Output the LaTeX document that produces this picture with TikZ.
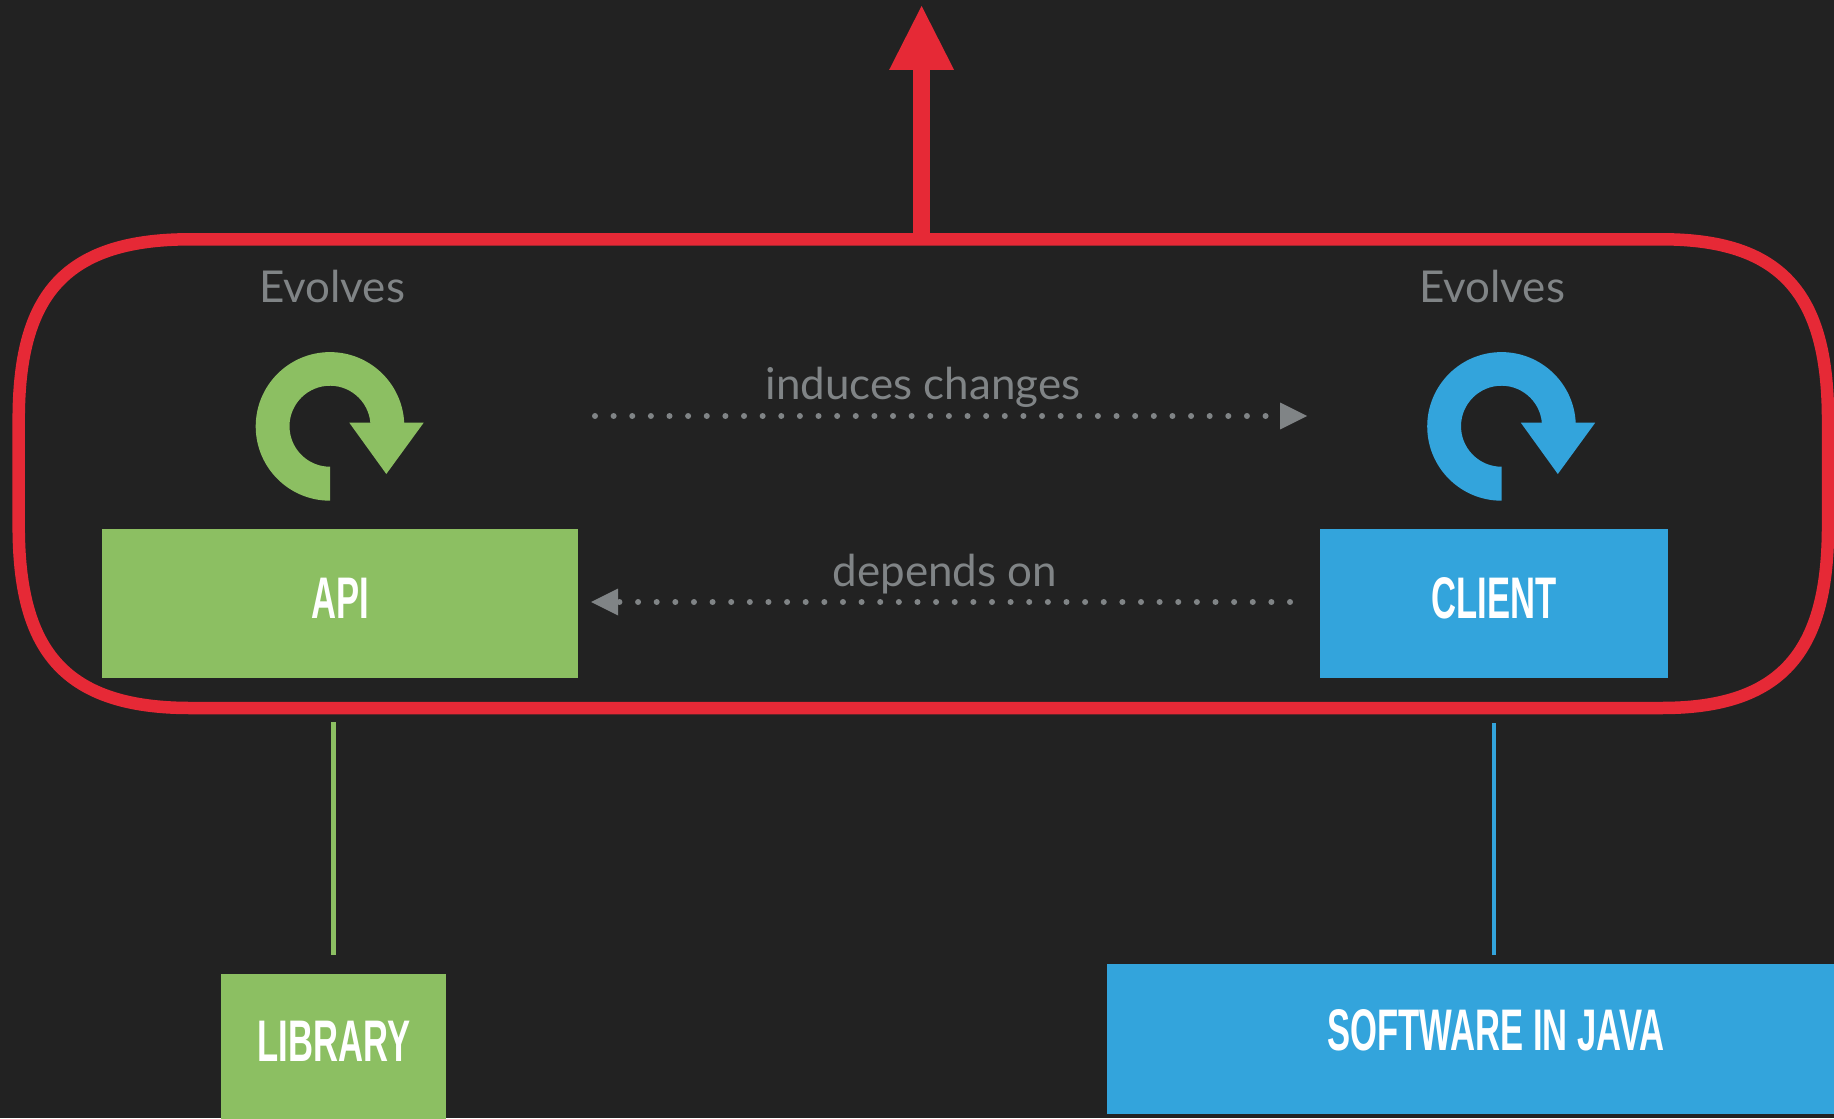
\documentclass[tikz,border=0pt]{standalone}
\usepackage{fontspec}
\usetikzlibrary{arrows.meta}
\setmainfont{Lato}
\newfontfamily\din[FakeStretch=0.59]{Liberation Sans}
\definecolor{bgc}{HTML}{222222}
\definecolor{grn}{HTML}{8CBF62}
\definecolor{blu}{HTML}{33A4DC}
\definecolor{rd}{HTML}{E62936}
\definecolor{gry}{HTML}{808486}
\newcommand\looparrow[2]{\fill[#2,shift={(#1,0)}] (330,500.7) arc[start angle=90,end angle=357,radius=74.3] -- (423.7,422.7) -- (386.3,474) -- (349.3,422.7) -- (370.35,422.7) arc[start angle=355,end angle=90,radius=40.5] -- cycle;}
\tikzset{
  boxnode/.style={draw=none,inner sep=0pt,outer sep=0pt,anchor=north west},
  captxt/.style={anchor=base,text=white,inner sep=0pt,font=\din\bfseries\fontsize{33.4}{36}\selectfont},
  greytxt/.style={anchor=base,text=gry,inner sep=0pt,font=\fontsize{25}{30}\selectfont},
  dotline/.style={gry,line width=0.12cm,line cap=round,dash pattern=on 0pt off 0.3726cm},
  dottip/.style={-{Triangle[length=0.54cm,width=0.54cm,line width=0pt,sharp]}},
  stem/.style={line width=0.09cm}
}
\begin{document}
\begin{tikzpicture}[x=0.02cm,y=-0.02cm]
\fill[bgc] (0,0) rectangle (1834,1118);
\useasboundingbox (0,0) rectangle (1834,1118);
% nodes
\node[boxnode,fill=grn,minimum width=9.52cm,minimum height=2.98cm] (api) at (102,529) {};
\node[boxnode,fill=blu,minimum width=6.96cm,minimum height=2.98cm] (client) at (1320,529) {};
\node[boxnode,fill=grn,minimum width=4.5cm,minimum height=3.0cm] (library) at (221,973.5) {};
\node[boxnode,fill=blu,minimum width=14.54cm,minimum height=3.0cm] (software) at (1107,964) {};
\node[captxt] (apit) at (340,618.5) {API};
\node[captxt] (clientt) at (1494,618.5) {CLIENT};
\node[captxt] (libt) at (334,1061) {LIBRARY};
\node[captxt] (softt) at (1496,1050) {SOFTWARE IN JAVA};
\node[greytxt] (ev1) at (332,302) {Evolves};
\node[greytxt] (ev2) at (1492,302) {Evolves};
\node[greytxt] (ind) at (923,399) {induces changes};
\node[greytxt] (dep) at (945,586) {depends on};
% loop icons
\looparrow{0}{grn}
\looparrow{1171.5}{blu}
% coordinates
\coordinate (boxtop) at (921.6,239.3);
\coordinate (redtip) at (921.6,6);
\coordinate (ind1) at (595,416);
\coordinate (ind2) at (1307,416);
\coordinate (dep1) at (1290,602);
\coordinate (dep2) at (591,602);
\coordinate (gs) at (333.5,722);
\coordinate (ge) at (333.5,955);
\coordinate (bs) at (1494,723);
\coordinate (be) at (1494,955);
% red round box
\draw[rd,line width=0.25cm]
  (190,239.3) -- (boxtop) -- (1662,239.3)
  .. controls (1787,239.3) and (1828,300) .. (1828,420)
  -- (1828,526)
  .. controls (1828,646) and (1787,708) .. (1662,708)
  -- (190,708)
  .. controls (60,708) and (18.7,646) .. (18.7,526)
  -- (18.7,420)
  .. controls (18.7,300) and (60,239.3) .. (190,239.3) -- cycle;
\draw[rd,line width=0.33cm,-{Triangle[length=1.28cm,width=1.3cm,line width=0pt,sharp]}] (boxtop) -- (redtip);
% dotted connectors
\draw[dotline,dottip] (ind1) -- (ind2);
\draw[dotline,dottip] (dep1) -- (dep2);
% stems
\draw[grn,stem] (gs) -- (ge);
\draw[blu,stem] (bs) -- (be);
\end{tikzpicture}
\end{document}
